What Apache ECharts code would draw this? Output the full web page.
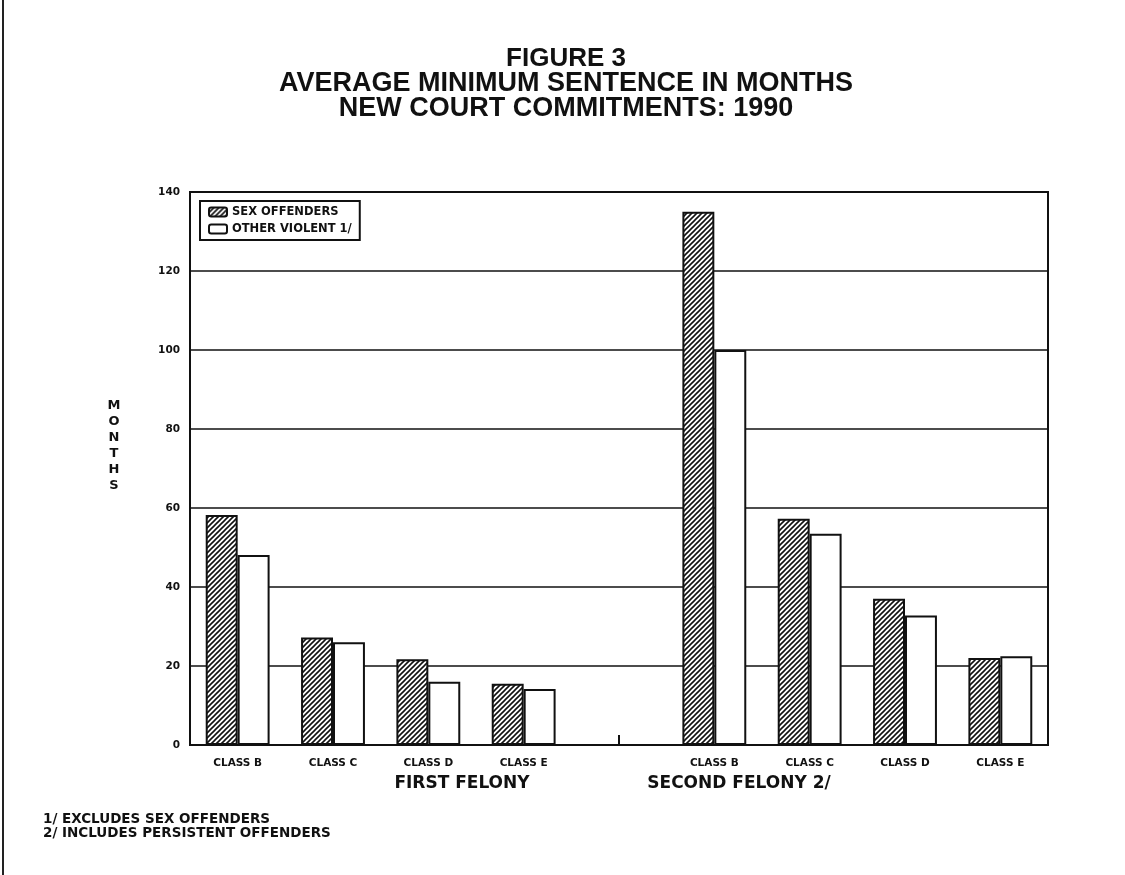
<!DOCTYPE html>
<html>
<head>
<meta charset="utf-8">
<script src="https://cdn.jsdelivr.net/npm/echarts@6/dist/echarts.min.js"></script>
<style>
  html, body { margin: 0; padding: 0; background: #fff; }
  #chart { width: 1125px; height: 875px; }
</style>
</head>
<body>
<div id="chart"></div>
<script>
// values (months)
const classes = ['CLASS B', 'CLASS C', 'CLASS D', 'CLASS E'];
const firstSex = [58.2, 27.2, 21.7, 15.5];
const firstOther = [48.1, 26.0, 16.0, 14.2];
const secondSex = [135, 57.3, 37.0, 22.0];
const secondOther = [100, 53.5, 32.8, 22.5];
const yTicks = [0, 20, 40, 60, 80, 100, 120, 140];
const titleLines = ['FIGURE 3', 'AVERAGE MINIMUM SENTENCE IN MONTHS', 'NEW COURT COMMITMENTS: 1990'];

// empty slot between first and second felony groups
const categories = [...classes, '', ...classes];
const sexData = [...firstSex, null, ...secondSex];
const otherData = [...firstOther, null, ...secondOther];

// diagonal hatch for sex offenders bars
function hatch() {
    const c = document.createElement('canvas');
    c.width = 5;
    c.height = 5;
    const ctx = c.getContext('2d');
    ctx.fillStyle = '#fff';
    ctx.fillRect(0, 0, 5, 5);
    ctx.strokeStyle = '#111';
    ctx.lineWidth = 1.6;
    ctx.beginPath();
    ctx.moveTo(-1, 1); ctx.lineTo(1, -1);
    ctx.moveTo(0, 5); ctx.lineTo(5, 0);
    ctx.moveTo(4, 6); ctx.lineTo(6, 4);
    ctx.stroke();
    return c;
}

const smallFont = { fontFamily: 'DejaVu Sans', fontWeight: 'bold', color: '#111' };

function txt(text, x, y, font, align) {
    return {
        type: 'text',
        x: x,
        y: y,
        style: { text: text, font: font, align: align || 'center', verticalAlign: 'middle', fill: '#111' }
    };
}

const chart = echarts.init(document.getElementById('chart'));
chart.setOption({
    backgroundColor: '#fff',
    animation: false,
    legend: {
        orient: 'vertical',
        left: 200,
        top: 201,
        padding: [5, 8, 5, 8],
        itemGap: 5,
        itemWidth: 18,
        itemHeight: 9,
        borderColor: '#111',
        borderWidth: 2,
        textStyle: { ...smallFont, fontSize: 11.5 },
        data: ['SEX OFFENDERS', 'OTHER VIOLENT 1/']
    },
    grid: {
        left: 190,
        right: 77,
        top: 192,
        bottom: 130,
        show: true,
        borderColor: '#111',
        borderWidth: 2,
        backgroundColor: 'transparent'
    },
    xAxis: {
        type: 'category',
        data: categories,
        axisLine: { lineStyle: { color: '#111', width: 2 } },
        axisTick: {
            show: true,
            alignWithLabel: true,
            inside: true,
            length: 10,
            interval: (i) => i === 4,
            lineStyle: { color: '#111', width: 2 }
        },
        axisLabel: { ...smallFont, fontSize: 10.5, margin: 13, interval: 0 }
    },
    yAxis: {
        type: 'value',
        min: yTicks[0],
        max: yTicks[yTicks.length - 1],
        interval: 20,
        axisLine: { show: true, lineStyle: { color: '#111', width: 2 } },
        axisTick: { show: false },
        axisLabel: { ...smallFont, fontSize: 10.5, margin: 10 },
        splitLine: { lineStyle: { color: '#111', width: 1.5 } }
    },
    series: [
        {
            name: 'SEX OFFENDERS',
            type: 'bar',
            data: sexData,
            barGap: '0%',
            barCategoryGap: '33%',
            itemStyle: {
                color: { image: hatch(), repeat: 'repeat' },
                borderColor: '#111',
                borderWidth: 2
            }
        },
        {
            name: 'OTHER VIOLENT 1/',
            type: 'bar',
            data: otherData,
            barGap: '0%',
            barCategoryGap: '33%',
            itemStyle: {
                color: '#fff',
                borderColor: '#111',
                borderWidth: 2
            }
        }
    ],
    graphic: [
        txt(titleLines[0], 566, 59, 'bold 26px "Liberation Sans"'),
        txt(titleLines[1], 566, 84, 'bold 27px "Liberation Sans"'),
        txt(titleLines[2], 566, 109, 'bold 27px "Liberation Sans"'),
        {
            type: 'text',
            x: 114,
            y: 398,
            style: {
                text: 'M\nO\nN\nT\nH\nS',
                font: 'bold 13px "DejaVu Sans"',
                lineHeight: 16,
                align: 'center',
                fill: '#111'
            }
        },
        txt('FIRST FELONY', 462, 784, 'bold 17px "DejaVu Sans"'),
        txt('SECOND FELONY 2/', 739, 784, 'bold 17px "DejaVu Sans"'),
        {
            type: 'text',
            x: 43,
            y: 812,
            style: {
                text: '1/ EXCLUDES SEX OFFENDERS\n2/ INCLUDES PERSISTENT OFFENDERS',
                font: 'bold 13.5px "DejaVu Sans"',
                lineHeight: 14,
                fill: '#111'
            }
        },
        {
            type: 'line',
            shape: { x1: 3, y1: 0, x2: 3, y2: 875 },
            style: { stroke: '#222', lineWidth: 2 }
        }
    ]
});
</script>
</body>
</html>
